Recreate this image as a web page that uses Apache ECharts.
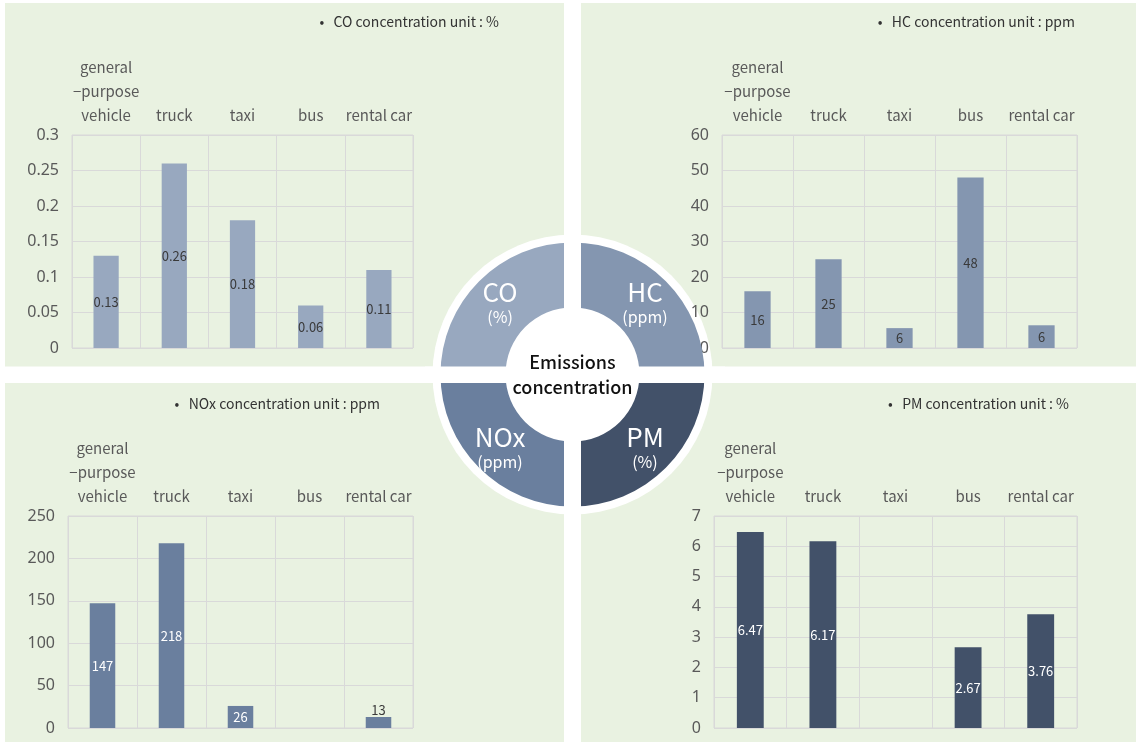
<!DOCTYPE html>
<html>
<head>
<meta charset="utf-8">
<script src="https://cdn.jsdelivr.net/npm/echarts@6/dist/echarts.min.js"></script>
<style>
  html, body { margin: 0; padding: 0; background: #fff; }
  #chart { width: 1138px; height: 743px; }
</style>
</head>
<body>
<div id="chart"></div>
<script>
// categories shared by all four panels
const categories = ['general\n\u2212purpose\nvehicle', 'truck', 'taxi', 'bus', 'rental car'];

const coValues = [0.13, 0.26, 0.18, 0.06, 0.11];
const hcValues = [16, 25, 5.6, 48, 6.4];
const hcLabels = ['16', '25', '6', '48', '6'];
const noxValues = [147, 218, 26, null, 13];
const pmValues = [6.47, 6.17, null, 2.67, 3.76];

const axisMax = [0.3, 60, 250, 7];
const axisStep = [0.05, 10, 50, 1];

const titles = [
  '\u2022   CO concentration unit : %',
  '\u2022   HC concentration unit : ppm',
  '\u2022   NOx concentration unit : ppm',
  '\u2022   PM concentration unit : %'
];

const ringNames = ['HC', 'PM', 'NOx', 'CO'];
const ringUnits = ['(ppm)', '(%)', '(ppm)', '(%)'];
const ringColors = ['#8496b0', '#425169', '#6a7f9e', '#98a8bf'];

const barColors = ['#98a8bf', '#8496b0', '#6a7f9e', '#425169'];
const labelColors = ['#3a3a3a', '#3a3a3a', '#ffffff', '#ffffff'];

const font = '"Noto Sans CJK KR", "Noto Sans", sans-serif';
const numFont = '"Noto Sans", sans-serif';
const panelBg = '#e9f2e1';
const lineColor = '#d9d9d9';

const grids = [
  { left: 72, top: 135, width: 341, height: 213 },
  { left: 722, top: 135, width: 355, height: 213 },
  { left: 68, top: 516, width: 345, height: 212 },
  { left: 714, top: 516, width: 363, height: 212 }
];

const cx = 572.5, cy = 374.5;

const chart = echarts.init(document.getElementById('chart'));

function seriesData(values, idx) {
  return values.map(v => {
    if (v === null) return '-';
    if (idx === 2 && v < 20) {
      // small bar: label sits just over it
      return { value: v, label: { position: 'top', distance: 0, color: '#3a3a3a' } };
    }
    return v;
  });
}

const allValues = [coValues, hcValues, noxValues, pmValues];

function titleText(i, x, y) {
  return {
    type: 'text',
    style: { text: titles[i], x: x, y: y, textAlign: 'right', textVerticalAlign: 'middle', fill: '#333', font: '14px ' + font }
  };
}

const option = {
  animation: false,
  textStyle: { fontFamily: font },
  graphic: [
    { type: 'rect', z: -10, shape: { x: 5, y: 3, width: 559, height: 363.5 }, style: { fill: panelBg } },
    { type: 'rect', z: -10, shape: { x: 581, y: 3, width: 555, height: 363.5 }, style: { fill: panelBg } },
    { type: 'rect', z: -10, shape: { x: 5, y: 383, width: 559, height: 359 }, style: { fill: panelBg } },
    { type: 'rect', z: -10, shape: { x: 581, y: 383, width: 555, height: 359 }, style: { fill: panelBg } },
    // white disk behind the ring, kept under the axis labels
    { type: 'circle', z: -5, shape: { cx: cx, cy: cy, r: 140 }, style: { fill: '#ffffff' } },
    titleText(0, 499, 22),
    titleText(1, 1075, 22),
    titleText(2, 380, 404),
    titleText(3, 1069, 404),
    // white cross cutting the ring into quarters
    { type: 'rect', z: 50, shape: { x: 564, y: 225, width: 17, height: 300 }, style: { fill: '#ffffff' } },
    { type: 'rect', z: 50, shape: { x: 425, y: 366.5, width: 300, height: 16.5 }, style: { fill: '#ffffff' } },
    {
      type: 'text', z: 100,
      style: {
        text: 'Emissions\nconcentration', x: cx, y: cy,
        textAlign: 'center', textVerticalAlign: 'middle',
        fill: '#111', font: '500 18px ' + font, lineHeight: 25
      }
    }
  ],
  grid: grids.map(g => Object.assign({
    show: true, borderColor: lineColor, borderWidth: 1,
    backgroundColor: 'transparent', containLabel: false, outerBoundsMode: 'none'
  }, g)),
  xAxis: grids.map((g, i) => ({
    type: 'category',
    gridIndex: i,
    position: 'top',
    data: categories,
    axisLine: { show: false },
    axisTick: { show: false },
    splitLine: { show: true, lineStyle: { color: lineColor } },
    axisLabel: {
      interval: 0, margin: 8, color: '#595959',
      fontSize: 15, lineHeight: 24, fontFamily: font
    }
  })),
  yAxis: grids.map((g, i) => ({
    type: 'value',
    gridIndex: i,
    min: 0,
    max: axisMax[i],
    interval: axisStep[i],
    axisLine: { show: false },
    axisTick: { show: false },
    splitLine: { lineStyle: { color: lineColor } },
    axisLabel: { margin: 13, color: '#595959', fontSize: 16, fontFamily: numFont }
  })),
  series: allValues.map((vals, i) => ({
    type: 'bar',
    xAxisIndex: i,
    yAxisIndex: i,
    barWidth: '37%',
    data: seriesData(vals, i),
    itemStyle: { color: barColors[i] },
    label: {
      show: true,
      position: 'inside',
      color: labelColors[i],
      fontSize: 13,
      fontFamily: font,
      formatter: p => (i === 1 ? hcLabels[p.dataIndex] : String(p.value))
    }
  })).concat([
    {
      type: 'pie',
      silent: true,
      center: [cx, cy],
      radius: [67, 132],
      startAngle: 90,
      clockwise: true,
      z: 6,
      itemStyle: { borderWidth: 0 },
      label: {
        show: true,
        position: 'inside',
        color: '#ffffff',
        formatter: p => '{a|' + p.name + '}\n{b|' + ringUnits[p.dataIndex] + '}',
        rich: {
          a: { fontSize: 26, lineHeight: 30, color: '#fff', fontFamily: font },
          b: { fontSize: 16, lineHeight: 20, color: '#fff', fontFamily: font }
        }
      },
      labelLine: { show: false },
      data: ringNames.map((n, k) => ({ name: n, value: 1, itemStyle: { color: ringColors[k] } }))
    }
  ])
};

chart.setOption(option);
</script>
</body>
</html>
